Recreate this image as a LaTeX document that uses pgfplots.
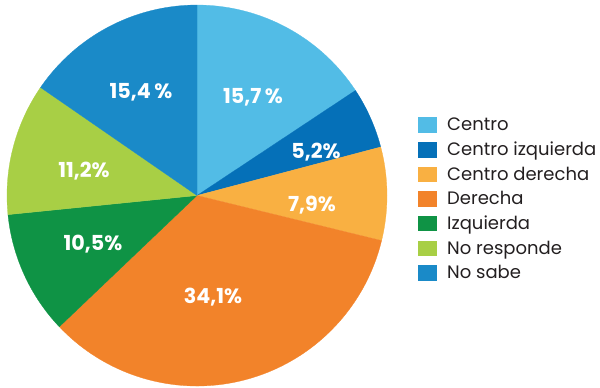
\documentclass[border=0pt]{standalone}
\usepackage{pgfplots}
\pgfplotsset{compat=1.18}
\usepackage{fontspec}
\setmainfont{Poppins}
\definecolor{cCentro}{HTML}{52BCE6}
\definecolor{cCI}{HTML}{0570B8}
\definecolor{cCD}{HTML}{F9B042}
\definecolor{cDer}{HTML}{F2832A}
\definecolor{cIzq}{HTML}{0F9345}
\definecolor{cNR}{HTML}{A8CF45}
\definecolor{cNS}{HTML}{1A8AC8}
\definecolor{txt}{HTML}{231F20}
% shares (%), clockwise from 12 o'clock
\def\vA{15.7}\def\vB{5.2}\def\vC{7.9}\def\vD{34.1}\def\vE{10.5}\def\vF{11.2}\def\vG{15.4}
\pgfmathsetmacro{\aA}{90}
\pgfmathsetmacro{\aB}{\aA-3.6*\vA}
\pgfmathsetmacro{\aC}{\aB-3.6*\vB}
\pgfmathsetmacro{\aD}{\aC-3.6*\vC}
\pgfmathsetmacro{\aE}{\aD-3.6*\vD}
\pgfmathsetmacro{\aF}{\aE-3.6*\vE}
\pgfmathsetmacro{\aG}{\aF-3.6*\vF}
\pgfmathsetmacro{\aH}{\aG-3.6*\vG}
\begin{document}
\begin{tikzpicture}
\begin{axis}[scale only axis, width=450pt, height=289.5pt,
  xmin=0, xmax=600, ymin=0, ymax=386, hide axis, clip=false,
  legend style={draw=none, fill=none, at={(axis cs:418,271)}, anchor=north west,
    font=\fontsize{13.5}{14}\selectfont\color{txt}, legend cell align=left,
    row sep=2.9pt, column sep=6pt, inner sep=0pt},
  legend image code/.code={\fill[#1] (0pt,-5pt) rectangle (13.5pt,6pt);},
  every axis plot/.append style={samples=80}]
\path (axis cs:0,0) rectangle (axis cs:600,386);
\addplot[fill=cCentro, draw=cCentro, line width=0.2pt, domain=\aB:\aA] ({197+190*cos(x)},{191+190*sin(x)}) -- (axis cs:197,191) -- cycle;
\addlegendentry{Centro}
\addplot[fill=cCI, draw=cCI, line width=0.2pt, domain=\aC:\aB] ({197+190*cos(x)},{191+190*sin(x)}) -- (axis cs:197,191) -- cycle;
\addlegendentry{Centro izquierda}
\addplot[fill=cCD, draw=cCD, line width=0.2pt, domain=\aD:\aC] ({197+190*cos(x)},{191+190*sin(x)}) -- (axis cs:197,191) -- cycle;
\addlegendentry{Centro derecha}
\addplot[fill=cDer, draw=cDer, line width=0.2pt, domain=\aE:\aD] ({197+190*cos(x)},{191+190*sin(x)}) -- (axis cs:197,191) -- cycle;
\addlegendentry{Derecha}
\addplot[fill=cIzq, draw=cIzq, line width=0.2pt, domain=\aF:\aE] ({197+190*cos(x)},{191+190*sin(x)}) -- (axis cs:197,191) -- cycle;
\addlegendentry{Izquierda}
\addplot[fill=cNR, draw=cNR, line width=0.2pt, domain=\aG:\aF] ({197+190*cos(x)},{191+190*sin(x)}) -- (axis cs:197,191) -- cycle;
\addlegendentry{No responde}
\addplot[fill=cNS, draw=cNS, line width=0.2pt, domain=\aH:\aG] ({197+190*cos(x)},{191+190*sin(x)}) -- (axis cs:197,191) -- cycle;
\addlegendentry{No sabe}
\begin{scope}[every node/.style={text=white, font=\bfseries\fontsize{15.5}{15.5}\selectfont}]
\node at (axis cs:253,289) {15,7\,\%};
\node at (axis cs:316,234) {5,2\%};
\node at (axis cs:312,181) {7,9\%};
\node at (axis cs:213,90) {34,1\%};
\node at (axis cs:93,143) {10,5\%};
\node at (axis cs:84,215) {11,2\%};
\node at (axis cs:141,294) {15,4\,\%};
\end{scope}
\end{axis}
\end{tikzpicture}
\end{document}
